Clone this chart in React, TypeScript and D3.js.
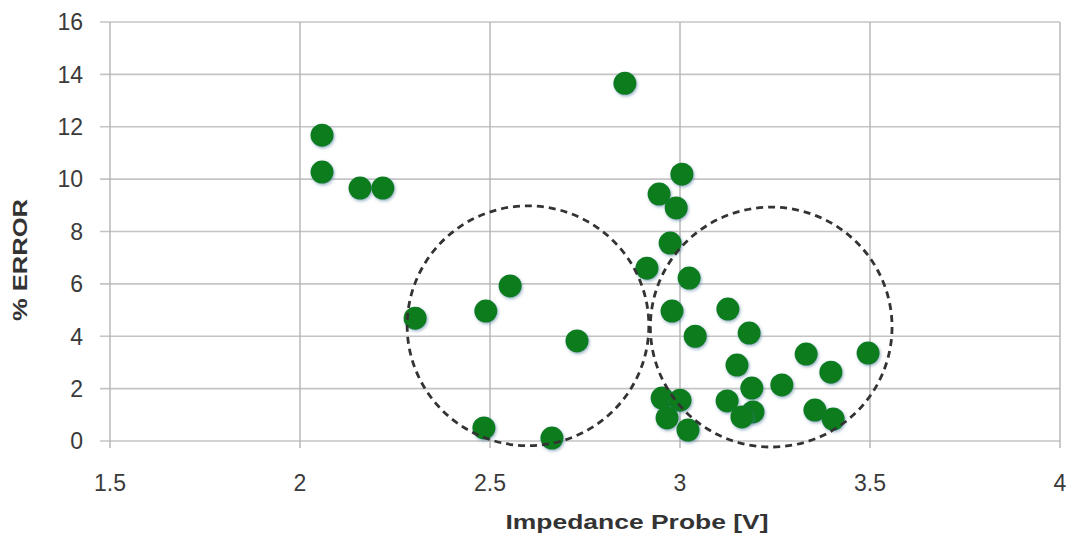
import React from "react";
import * as d3 from "d3";

const probeV = [
  2.058, 2.058, 2.158, 2.218, 2.303, 2.489, 2.553, 2.729, 2.484, 2.663,
  2.855, 2.945, 3.005, 2.99, 2.974, 2.913, 3.024, 2.979, 3.04,
  2.953, 3.0, 2.966, 3.021,
  3.126, 3.182, 3.15, 3.189, 3.124, 3.192, 3.163,
  3.268, 3.332, 3.397, 3.355, 3.403, 3.495,
];
const errorPct = [
  11.68, 10.27, 9.66, 9.66, 4.69, 4.96, 5.92, 3.82, 0.5, 0.11,
  13.66, 9.43, 10.19, 8.9, 7.56, 6.6, 6.22, 4.96, 4.0,
  1.64, 1.56, 0.88, 0.42,
  5.04, 4.12, 2.9, 2.02, 1.53, 1.11, 0.92,
  2.14, 3.32, 2.63, 1.18, 0.84, 3.36,
];
const xTicks = [1.5, 2, 2.5, 3, 3.5, 4];
const yTicks = [0, 2, 4, 6, 8, 10, 12, 14, 16];
// dashed cluster circles: centre x, centre y, radius in x units, radius in y units
const circleCx = [2.6, 3.24];
const circleCy = [4.4, 4.35];
const circleRx = [0.318, 0.318];
const circleRy = [4.58, 4.58];

export default function App() {
  const W = 1066, H = 539;
  const x = d3.scaleLinear().domain([1.5, 4]).range([110, 1060]);
  const y = d3.scaleLinear().domain([0, 16]).range([441, 22]);
  const pts = probeV.map((v, i) => ({ v, e: errorPct[i] }));
  const font = "'Liberation Sans', Arial, sans-serif";
  return (
    <svg width={W} height={H} style={{ position: "absolute", left: 0, top: 0, background: "#fff" }}>
      <defs>
        <filter id="sh" x="-50%" y="-50%" width="200%" height="200%">
          <feDropShadow dx="1" dy="1.5" stdDeviation="1.6" floodColor="#3d6f92" floodOpacity="0.55" />
        </filter>
      </defs>
      <rect width={W} height={H} fill="#fff" />
      {yTicks.map((t) => (
        <line key={"h" + t} x1={100} x2={x(4)} y1={y(t)} y2={y(t)} stroke="#c4c4c4" strokeWidth={1.6} />
      ))}
      {xTicks.map((t) => (
        <line key={"v" + t} x1={x(t)} x2={x(t)} y1={y(16)} y2={y(0) + 7} stroke="#b4b4b4" strokeWidth={1.4} />
      ))}
      {yTicks.map((t) => (
        <text key={"yl" + t} x={83} y={y(t)} dy="0.36em" textAnchor="end" fontFamily={font} fontSize={23} fill="#3a3a3a">
          {t}
        </text>
      ))}
      {xTicks.map((t) => (
        <text key={"xl" + t} x={x(t)} y={491} textAnchor="middle" fontFamily={font} fontSize={23} fill="#3a3a3a">
          {t}
        </text>
      ))}
      {pts.map((p, i) => (
        <circle key={"p" + i} cx={x(p.v)} cy={y(p.e)} r={11.5} fill="#0a7b1f" filter="url(#sh)" />
      ))}
      {circleCx.map((cx, i) => (
        <ellipse
          key={"c" + i}
          cx={x(cx)}
          cy={y(circleCy[i])}
          rx={x(cx + circleRx[i]) - x(cx)}
          ry={y(0) - y(circleRy[i])}
          fill="none"
          stroke="#333"
          strokeWidth={2.8}
          strokeDasharray="7 5"
        />
      ))}
      <text x={637} y={529} textAnchor="middle" fontFamily={font} fontWeight="bold" fontSize={21} fill="#333"
        textLength={263} lengthAdjust="spacingAndGlyphs">
        Impedance Probe [V]
      </text>
      <text transform="translate(27,260) rotate(-90)" textAnchor="middle" fontFamily={font} fontWeight="bold" fontSize={20} fill="#333"
        textLength={122} lengthAdjust="spacingAndGlyphs">
        % ERROR
      </text>
    </svg>
  );
}
